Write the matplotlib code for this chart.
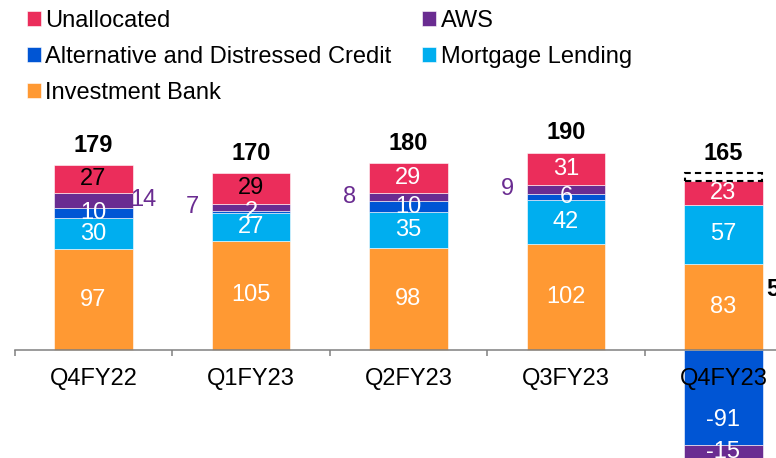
import matplotlib.pyplot as plt
from matplotlib.ticker import FixedLocator

plt.rcParams['font.family'] = ['Liberation Sans', 'DejaVu Sans']

quarters = ['Q4FY22', 'Q1FY23', 'Q2FY23', 'Q3FY23', 'Q4FY23']
investment_bank = [97, 105, 98, 102, 83]
mortgage_lending = [30, 27, 35, 42, 57]
alt_distressed = [10, 2, 10, 6, -91]
aws = [14, 7, 8, 9, -15]
unallocated = [27, 29, 29, 31, 23]
totals = [179, 170, 180, 190, 165]
# dashed "other" block on top of the last bar
other_last = 7

c_ib = '#FF9933'
c_ml = '#00AEEF'
c_adc = '#0055D4'
c_aws = '#6A2C91'
c_un = '#EB2D5B'

W, H = 776, 458
fig = plt.figure(figsize=(W / 100, H / 100), dpi=100)

scale = 1.039        # px per unit
y0 = 350             # pixel row of the zero line
top_px = 100
x_left = 14.7
step = 157.5
ax = fig.add_axes([x_left / W, 0, (W - x_left) / W, (H - top_px) / H])
ax.set_ylim(-(H - y0) / scale, (y0 - top_px) / scale)
ax.set_xlim(-0.5, -0.5 + (W - x_left) / step)

x = list(range(len(quarters)))
bw = 0.5
series = [('Investment Bank', investment_bank, c_ib),
          ('Mortgage Lending', mortgage_lending, c_ml),
          ('Alternative and Distressed Credit', alt_distressed, c_adc),
          ('AWS', aws, c_aws),
          ('Unallocated', unallocated, c_un)]

pos_base = [0] * len(x)
neg_base = [0] * len(x)
handles = {}
for name, vals, col in series:
    bottoms = []
    for i, v in enumerate(vals):
        if v >= 0:
            bottoms.append(pos_base[i])
            pos_base[i] += v
        else:
            bottoms.append(neg_base[i])
            neg_base[i] += v
    bars = ax.bar(x, vals, bw, bottom=bottoms, color=col, edgecolor='white',
                  linewidth=0.4, label=name)
    handles[name] = bars
    for i, (v, b) in enumerate(zip(vals, bottoms)):
        mid = b + v / 2
        if name == 'AWS' and v > 0:
            if i == 0:
                ax.text(i + bw / 2 - 0.015, mid, str(v), ha='left', va='center',
                        color=c_aws, fontsize=17)
            else:
                ax.text(i - bw / 2 - 0.08, mid, str(v), ha='right', va='center',
                        color=c_aws, fontsize=17)
            continue
        if name == 'Alternative and Distressed Credit' and v < 0:
            mid = mid - 22
        tc = 'black' if (name == 'Unallocated' and i < 2) else 'white'
        ax.text(i, mid, str(v), ha='center', va='center', color=tc, fontsize=17)

# dashed block on the last bar
ax.bar(x[-1], other_last, bw * 0.98, bottom=pos_base[-1], fill=False,
       edgecolor='black', linestyle=(0, (3, 2)), linewidth=1.5)

for i, t in enumerate(totals):
    top = pos_base[i] + (other_last if i == len(x) - 1 else 0)
    ax.annotate(str(t), (i, top), xytext=(0, 6), textcoords='offset points',
                ha='center', va='bottom', fontsize=17, fontweight='bold')

ax.text(4.27, 58, '5', ha='left', va='center', fontsize=17, fontweight='bold')

for s in ['left', 'right', 'top']:
    ax.spines[s].set_visible(False)
ax.spines['bottom'].set_position(('data', 0))
ax.spines['bottom'].set_color('#808080')
ax.spines['bottom'].set_linewidth(1.1)
ax.set_yticks([])
ax.set_xticks(x)
ax.set_xticklabels(quarters, fontsize=17)
ax.tick_params(axis='x', which='major', length=0, pad=13)
ax.xaxis.set_minor_locator(FixedLocator([i - 0.5 for i in range(len(x) + 1)]))
ax.tick_params(axis='x', which='minor', length=4.5, width=1.1, color='#808080')

order = ['Unallocated', 'Alternative and Distressed Credit', 'Investment Bank',
         'AWS', 'Mortgage Lending']
fig.legend([handles[n] for n in order], order, ncol=2, loc='upper left',
           bbox_to_anchor=(10 / W, 1 + 7 / H), frameon=False, fontsize=17,
           handlelength=0.6, handleheight=0.6, handletextpad=0.2,
           labelspacing=0.6, columnspacing=1.27, borderpad=0.2)

fig.savefig('out.png', dpi=100)
